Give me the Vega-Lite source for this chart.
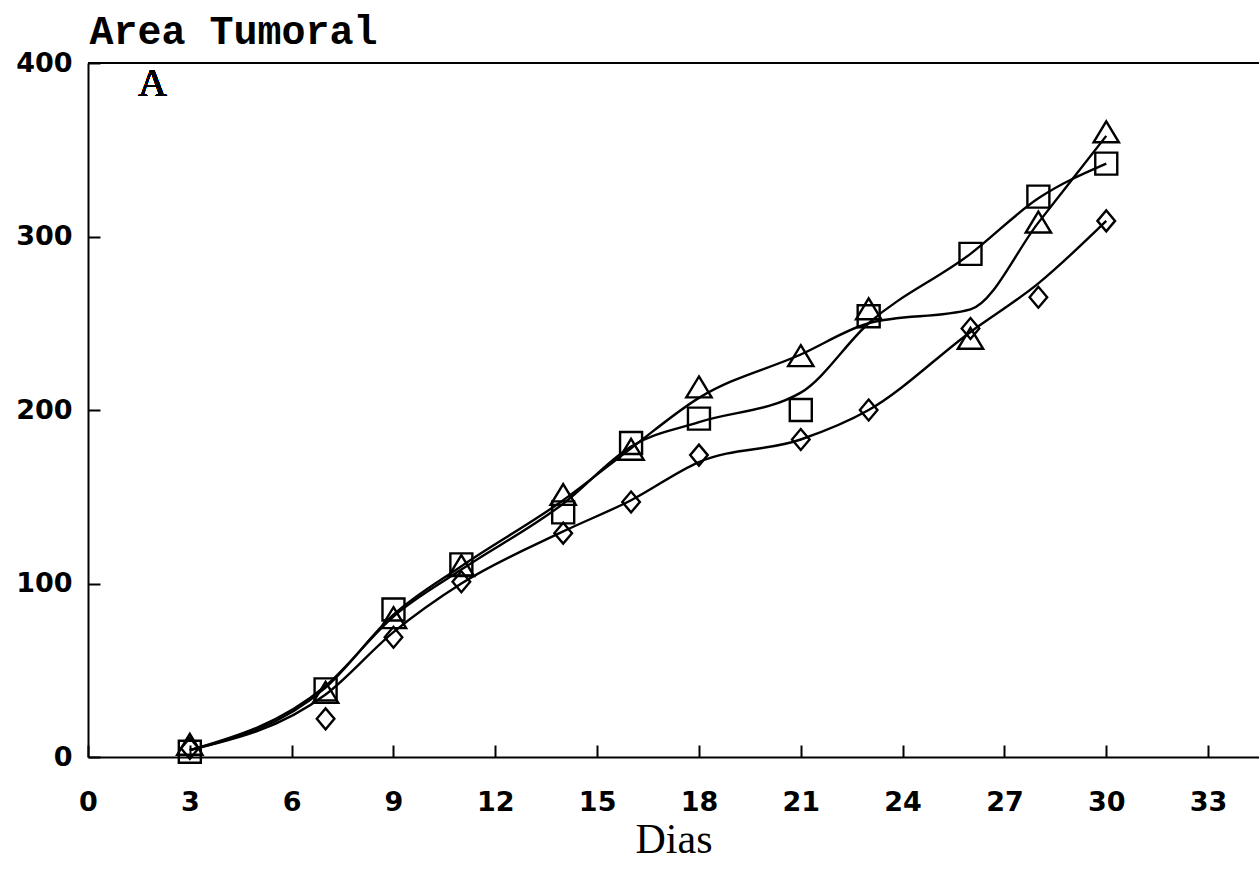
{
  "$schema": "https://vega.github.io/schema/vega-lite/v6.json",
  "width": 1171,
  "height": 694,
  "autosize": {"type": "none"},
  "padding": {"left": 88, "top": 63, "right": 0, "bottom": 124},
  "background": "white",
  "config": {
    "view": {"stroke": null},
    "axis": {
      "grid": false,
      "domainColor": "black",
      "domainWidth": 2,
      "tickColor": "black",
      "tickWidth": 2,
      "tickSize": -12,
      "labelFont": "DejaVu Sans",
      "labelFontWeight": "bold",
      "labelFontSize": 27,
      "labelColor": "black",
      "labelFlush": false,
      "labelOverlap": false,
      "labelBound": false,
      "titleFont": "Liberation Mono",
      "titleFontWeight": "bold",
      "titleColor": "black"
    }
  },
  "data": {
    "values": [
      {"dia": 3, "grupo": "T", "area": 7, "curva": 4},
      {"dia": 7, "grupo": "T", "area": 37, "curva": 40},
      {"dia": 9, "grupo": "T", "area": 80, "curva": 82},
      {"dia": 11, "grupo": "T", "area": 110, "curva": 110},
      {"dia": 14, "grupo": "T", "area": 151, "curva": 148},
      {"dia": 16, "grupo": "T", "area": 177, "curva": 178},
      {"dia": 18, "grupo": "T", "area": 213, "curva": 207},
      {"dia": 21, "grupo": "T", "area": 231, "curva": 232},
      {"dia": 23, "grupo": "T", "area": 258, "curva": 250},
      {"dia": 26, "grupo": "T", "area": 241, "curva": 258},
      {"dia": 28, "grupo": "T", "area": 308, "curva": 308},
      {"dia": 30, "grupo": "T", "area": 360, "curva": 358},
      {"dia": 3, "grupo": "S", "area": 3, "curva": 4},
      {"dia": 7, "grupo": "S", "area": 39, "curva": 41},
      {"dia": 9, "grupo": "S", "area": 85, "curva": 81},
      {"dia": 11, "grupo": "S", "area": 111, "curva": 108},
      {"dia": 14, "grupo": "S", "area": 141, "curva": 146},
      {"dia": 16, "grupo": "S", "area": 181, "curva": 179},
      {"dia": 18, "grupo": "S", "area": 195, "curva": 193},
      {"dia": 21, "grupo": "S", "area": 200, "curva": 210},
      {"dia": 23, "grupo": "S", "area": 254, "curva": 250},
      {"dia": 26, "grupo": "S", "area": 290, "curva": 290},
      {"dia": 28, "grupo": "S", "area": 323, "curva": 322},
      {"dia": 30, "grupo": "S", "area": 342, "curva": 342},
      {"dia": 3, "grupo": "D", "area": 5, "curva": 4},
      {"dia": 7, "grupo": "D", "area": 22, "curva": 36},
      {"dia": 9, "grupo": "D", "area": 69, "curva": 72},
      {"dia": 11, "grupo": "D", "area": 101, "curva": 100},
      {"dia": 14, "grupo": "D", "area": 129, "curva": 130},
      {"dia": 16, "grupo": "D", "area": 147, "curva": 148},
      {"dia": 18, "grupo": "D", "area": 174, "curva": 170},
      {"dia": 21, "grupo": "D", "area": 183, "curva": 183},
      {"dia": 23, "grupo": "D", "area": 200, "curva": 200},
      {"dia": 26, "grupo": "D", "area": 247, "curva": 245},
      {"dia": 28, "grupo": "D", "area": 265, "curva": 273},
      {"dia": 30, "grupo": "D", "area": 309, "curva": 309}
    ]
  },
  "layer": [
    {
      "mark": {"type": "line", "interpolate": "monotone", "color": "black", "strokeWidth": 2.4},
      "encoding": {
        "x": {
          "field": "dia", "type": "quantitative",
          "scale": {"domain": [0, 34.5], "nice": false, "zero": false},
          "axis": {"values": [0, 3, 6, 9, 12, 15, 18, 21, 24, 27, 30, 33], "labelPadding": 44, "title": "Dias", "titleFont": "Liberation Serif", "titleFontWeight": "normal", "titleFontSize": 42, "titleBaseline": "alphabetic", "titleY": 95}
        },
        "y": {
          "field": "curva", "type": "quantitative",
          "scale": {"domain": [0, 400], "nice": false},
          "axis": {"values": [0, 100, 200, 300, 400], "labelPadding": 28, "title": "Area Tumoral", "titleFontSize": 40, "titleAngle": 0, "titleAlign": "left", "titleBaseline": "alphabetic", "titleX": 1, "titleY": -20}
        },
        "detail": {"field": "grupo"}
      }
    },
    {
      "mark": {"type": "point", "filled": false, "color": "black", "strokeWidth": 2.4, "size": 484, "opacity": 1},
      "encoding": {
        "x": {"field": "dia", "type": "quantitative"},
        "y": {"field": "area", "type": "quantitative"},
        "shape": {
          "field": "grupo", "type": "nominal",
          "scale": {"domain": ["T", "S", "D"], "range": ["M0,-1L1.15,0.9L-1.15,0.9Z", "square", "M-0.8,0L0,-0.95L0.8,0L0,0.95Z"]},
          "legend": null
        }
      }
    },
    {
      "mark": {"type": "rule", "color": "black", "strokeWidth": 2},
      "encoding": {"y": {"datum": 400, "type": "quantitative"}}
    },
    {
      "mark": {"type": "text", "font": "Liberation Serif", "fontWeight": "normal", "fontSize": 40, "color": "black", "baseline": "alphabetic", "align": "center"},
      "encoding": {"x": {"datum": 1.9, "type": "quantitative"}, "y": {"datum": 381, "type": "quantitative"}, "text": {"value": "A"}}
    }
  ]
}
